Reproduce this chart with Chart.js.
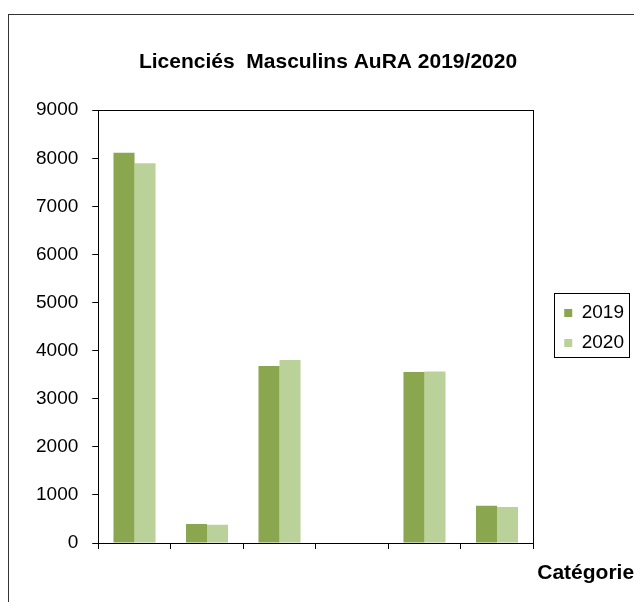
<!DOCTYPE html>
<html>
<head>
<meta charset="utf-8">
<script src="https://cdn.jsdelivr.net/npm/chart.js@4.4.1/dist/chart.umd.min.js"></script>
<style>
  html, body { margin: 0; padding: 0; background: #fff; overflow: hidden; }
  #frame { position: absolute; left: 8px; top: 14px; width: 660px; height: 620px; border: 1px solid #333; }
  #box { position: absolute; left: 0; top: 0; width: 625px; height: 587px; }
</style>
</head>
<body>
<div id="frame"><div id="box"><canvas id="licChart"></canvas></div></div>
<script>
// the reference shows no category names under the bars
var categories = ['', '', '', '', '', ''];
var seriesNames = ['2019', '2020'];
var values2019 = [8115, 395, 3680, 0, 3555, 775];
var values2020 = [7895, 380, 3805, 0, 3565, 750];
var yTicks = [0, 1000, 2000, 3000, 4000, 5000, 6000, 7000, 8000, 9000];

var FONT = '"Liberation Sans", Arial, sans-serif';
Chart.defaults.font.family = FONT;
Chart.defaults.color = '#000';

// plot frame, legend frame and the x axis title sitting past the plot
var framePlugin = {
    id: 'frame',
    afterDraw: function(chart) {
        var c = chart.ctx, a = chart.chartArea;
        c.save();
        c.strokeStyle = '#000';
        c.lineWidth = 1;
        c.strokeRect(Math.round(a.left) + 0.5, Math.round(a.top) + 0.5,
            Math.round(a.right - a.left), Math.round(a.bottom - a.top));

        var hb = chart.legend.legendHitBoxes;
        if (hb && hb.length) {
            var first = hb[0], last = hb[hb.length - 1];
            var l = first.left - 10;
            var r = first.left + 65;
            var t = first.top + first.height / 2 - 20;
            var b = last.top + last.height / 2 + 14;
            c.strokeRect(Math.round(l) + 0.5, Math.round(t) + 0.5, Math.round(r - l), Math.round(b - t));
        }

        c.font = 'bold 21px ' + FONT;
        c.fillStyle = '#000';
        c.textAlign = 'left';
        c.textBaseline = 'middle';
        c.fillText('Catégorie', a.right + 4, a.bottom + 30);
        c.restore();
    }
};

var ctx = document.getElementById('licChart');
var licChart = new Chart(ctx, {
    type: 'bar',
    plugins: [framePlugin],
    data: {
        labels: categories,
        datasets: [{
            label: seriesNames[0],
            data: values2019,
            backgroundColor: '#8aa64f',
            borderWidth: 0
        }, {
            label: seriesNames[1],
            data: values2020,
            backgroundColor: '#bbd19a',
            borderWidth: 0
        }]
    },
    options: {
        responsive: true,
        maintainAspectRatio: false,
        animation: false,
        layout: {
            padding: { left: 13, right: 0, top: 0, bottom: 53 }
        },
        datasets: {
            bar: { categoryPercentage: 0.58, barPercentage: 1.0 }
        },
        scales: {
            x: {
                grid: { drawOnChartArea: false, offset: true, tickLength: 6, color: '#000' },
                border: { display: true, color: '#000' },
                ticks: { display: false }
            },
            y: {
                min: yTicks[0],
                max: yTicks[yTicks.length - 1],
                grid: { drawOnChartArea: false, tickLength: 6, color: '#000' },
                border: { display: true, color: '#000' },
                ticks: {
                    stepSize: yTicks[1] - yTicks[0],
                    padding: 14,
                    font: { size: 19 },
                    color: '#000',
                    callback: function(v) { return String(v); }
                }
            },
            // empty axis, only keeps the gap between plot and legend
            gap: {
                type: 'linear',
                position: 'right',
                grid: { display: false },
                border: { display: false },
                ticks: { display: false },
                afterFit: function(s) { s.width = 20; }
            }
        },
        plugins: {
            title: {
                display: true,
                text: 'Licenciés  Masculins AuRA 2019/2020',
                font: { size: 21, weight: 'bold' },
                color: '#000',
                padding: { top: 35, bottom: 35 }
            },
            legend: {
                position: 'right',
                // blank legend title pushes the items down to mid plot
                title: { display: true, text: '', font: { size: 10 }, padding: { top: 80, bottom: 0 } },
                labels: { boxWidth: 8, boxHeight: 8, padding: 11, font: { size: 19 }, color: '#000' }
            },
            tooltip: { enabled: false }
        }
    }
});
</script>
</body>
</html>
